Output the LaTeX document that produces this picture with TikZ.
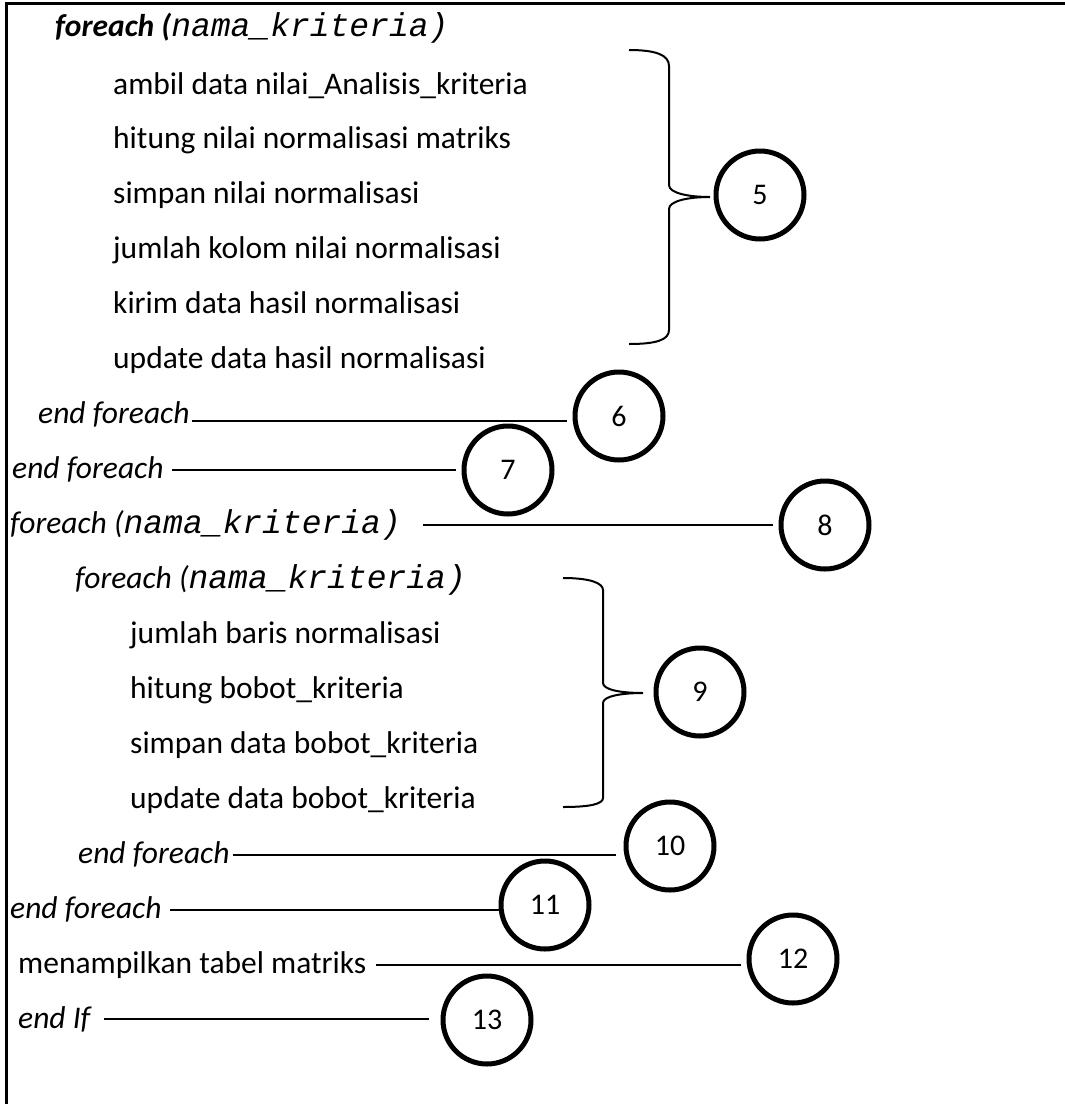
\documentclass[tikz,border=0pt]{standalone}
\usepackage{fontspec}
\setmainfont{Carlito}
\newfontfamily\codefont{Liberation Mono}
\newcommand{\code}[1]{{\codefont\itshape\fontsize{33}{38}\selectfont #1}}
\begin{document}
\begin{tikzpicture}[x=1pt,y=-1pt,
  txt/.style={anchor=base west, inner sep=0pt, font=\fontsize{31.5}{38}\selectfont},
  num/.style={draw, circle, line width=5pt, minimum size=88pt, inner sep=0pt,
              font=\fontsize{30}{36}\selectfont},
  conn/.style={line width=2pt},
  bracestyle/.style={line width=2pt},
  frame/.style={line width=3pt}]
\useasboundingbox (0,0) rectangle (1065,1104);

% frame (top and left edges)
\draw[frame] (6,1104) -- (6,3) -- (1065,3);

% pseudocode lines
\node[txt] (t0)  at (55,36)   {\textbf{\textit{foreach (}}\code{nama\_kriteria)}};
\node[txt] (t1)  at (113,94)  {ambil data nilai\_Analisis\_kriteria};
\node[txt] (t2)  at (113,148) {hitung nilai normalisasi matriks};
\node[txt] (t3)  at (113,203) {simpan nilai normalisasi};
\node[txt] (t4)  at (113,258) {jumlah kolom nilai normalisasi};
\node[txt] (t5)  at (113,313) {kirim data hasil normalisasi};
\node[txt] (t6)  at (113,368) {update data hasil normalisasi};
\node[txt] (t7)  at (38,423)  {\textit{end foreach}};
\node[txt] (t8)  at (12,478)  {\textit{end foreach}};
\node[txt] (t9)  at (10,533)  {\textit{foreach (}\code{nama\_kriteria)}};
\node[txt] (t10) at (75,588)  {\textit{foreach (}\code{nama\_kriteria)}};
\node[txt] (t11) at (130,643) {jumlah baris normalisasi};
\node[txt] (t12) at (130,698) {hitung bobot\_kriteria};
\node[txt] (t13) at (130,753) {simpan data bobot\_kriteria};
\node[txt] (t14) at (130,808) {update data bobot\_kriteria};
\node[txt] (t15) at (78,863)  {\textit{end foreach}};
\node[txt] (t16) at (10,918)  {\textit{end foreach}};
\node[txt] (t17) at (18,973)  {menampilkan tabel matriks};
\node[txt] (t18) at (18,1028) {\textit{end If}};

% numbered markers
\node[num] (c5)  at (760,195)  {5};
\node[num] (c6)  at (619,416)  {6};
\node[num] (c7)  at (508,470)  {7};
\node[num] (c8)  at (825,525)  {8};
\node[num] (c9)  at (700,692)  {9};
\node[num] (c10) at (670,846)  {10};
\node[num] (c11) at (545,905)  {11};
\node[num] (c12) at (793,959)  {12};
\node[num] (c13) at (487,1020) {13};

% braces grouping the loop bodies
\draw[bracestyle] (629,50) .. controls (656,50) and (669,55) .. (669,66)
  -- (669,185) .. controls (669,193) and (688,197) .. (710,197)
  .. controls (688,197) and (669,201) .. (669,209)
  -- (669,330) .. controls (669,340) and (656,344) .. (629,344);
\draw[bracestyle] (563,578) .. controls (590,578) and (603,583) .. (603,590)
  -- (603,683) .. controls (603,690) and (622,693) .. (643,693)
  .. controls (622,693) and (603,696) .. (603,703)
  -- (603,798) .. controls (603,804) and (590,807) .. (563,807);

% leaders from the code lines to their markers
\path ([xshift=2pt,yshift=2pt]t7.base east)   coordinate (a6);
\path ([xshift=8pt,yshift=8pt]t8.base east)   coordinate (a7);
\path ([xshift=22pt,yshift=8pt]t9.base east)  coordinate (a8);
\path ([xshift=3pt,yshift=8pt]t15.base east)  coordinate (a10);
\path ([xshift=8pt,yshift=8pt]t16.base east)  coordinate (a11);
\path ([xshift=10pt,yshift=8pt]t17.base east) coordinate (a12);
\path ([xshift=12pt,yshift=9pt]t18.base east) coordinate (a13);
\draw[conn, shorten >=6pt] (a6)  -- (a6  -| c6.west);
\draw[conn, shorten >=6pt] (a7)  -- (a7  -| c7.west);
\draw[conn, shorten >=6pt] (a8)  -- (a8  -| c8.west);
\draw[conn, shorten >=8pt] (a10) -- (a10 -| c10.west);
\draw[conn] (a11) -- (a11 -| c11.west);
\draw[conn, shorten >=6pt] (a12) -- (a12 -| c12.west);
\draw[conn, shorten >=12pt] (a13) -- (a13 -| c13.west);
\end{tikzpicture}
\end{document}
